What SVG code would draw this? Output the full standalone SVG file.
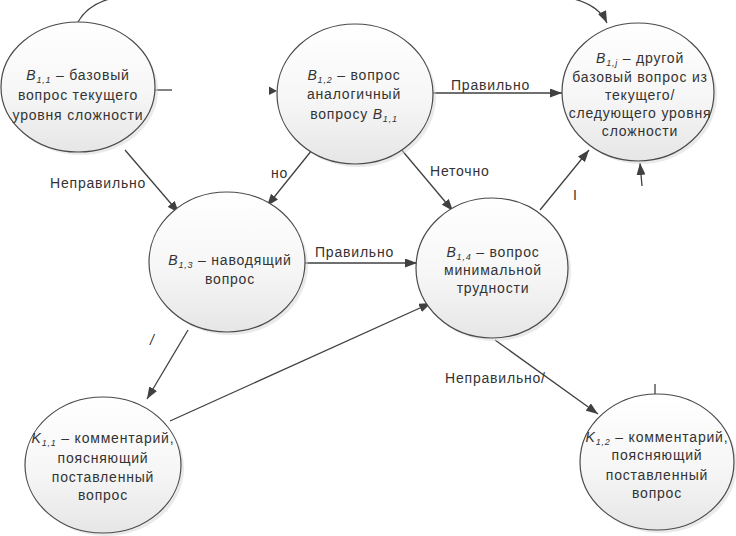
<svg xmlns="http://www.w3.org/2000/svg" width="736" height="536" viewBox="0 0 736 536">
<defs>
<linearGradient id="g" x1="0" y1="0" x2="0" y2="1">
<stop offset="0" stop-color="#ffffff"/>
<stop offset="0.55" stop-color="#f6f6f6"/>
<stop offset="1" stop-color="#e6e6e6"/>
</linearGradient>
<marker id="a" viewBox="0 0 12 9" refX="12" refY="4.5" markerWidth="12" markerHeight="9" markerUnits="userSpaceOnUse" orient="auto">
<path d="M0,0 L12,4.5 L0,9 Z" fill="#404040"/>
</marker>
</defs>
<style>
.n{fill:url(#g);stroke:#4a4a4a;stroke-width:1.2}
.s{fill:#d6d6d6;opacity:0.5}
.t{font-family:"Liberation Sans","Open Sans",sans-serif;font-size:14px;fill:#333;text-anchor:middle;letter-spacing:0.8px}
.l{font-family:"Liberation Sans","Open Sans",sans-serif;font-size:14px;fill:#333;letter-spacing:0.8px}
.i{font-style:italic}
.sub{font-size:9px;font-style:italic}
.c{fill:none;stroke:#404040;stroke-width:1.3}
</style>
<rect width="736" height="536" fill="#fff"/>
<g id="connectors">
<path class="c" d="M78,22 Q92,-3 135,-5 L545,-5 Q595,-3 607,23" marker-end="url(#a)"/>
<line class="c" x1="155" y1="90" x2="172" y2="90"/>
<path d="M269,86.5 L277,91 L269,95 Z" fill="#404040"/>
<line class="c" x1="433" y1="93" x2="562" y2="93" marker-end="url(#a)"/>
<line class="c" x1="125" y1="150" x2="179" y2="213" marker-end="url(#a)"/>
<line class="c" x1="312" y1="150" x2="267" y2="206" marker-end="url(#a)"/>
<line class="c" x1="400" y1="148" x2="453" y2="211" marker-end="url(#a)"/>
<line class="c" x1="305" y1="263" x2="417" y2="263" marker-end="url(#a)"/>
<line class="c" x1="188" y1="330" x2="147" y2="399" marker-end="url(#a)"/>
<line class="c" x1="170" y1="421" x2="431" y2="303" marker-end="url(#a)"/>
<line class="c" x1="540" y1="210" x2="589" y2="150" marker-end="url(#a)"/>
<line class="c" x1="495" y1="340" x2="598" y2="414" marker-end="url(#a)"/>
<line class="c" x1="642" y1="186" x2="640" y2="163" marker-end="url(#a)"/>
<line class="c" x1="655" y1="384" x2="655" y2="394"/>
<text class="l" x="50" y="188">Неправильно</text>
<text class="l" x="271" y="178">но</text>
<text class="l" x="451" y="90">Правильно</text>
<text class="l" x="430" y="176">Неточно</text>
<text class="l" x="315" y="257">Правильно</text>
<text class="l i" x="150" y="345">/</text>
<text class="l" x="573" y="200">I</text>
<text class="l" x="445" y="383">Неправильно/</text>
</g>
<g id="n11">
<ellipse class="s" cx="81" cy="90" rx="77" ry="65"/>
<ellipse class="n" cx="78" cy="87" rx="77" ry="65"/>
<text class="t" x="78" y="80"><tspan class="i">B</tspan><tspan class="sub" dy="3">1,1</tspan><tspan dy="-3"> – базовый</tspan></text>
<text class="t" x="78" y="100">вопрос текущего</text>
<text class="t" x="78" y="120">уровня сложности</text>
</g>
<g id="n12">
<ellipse class="s" cx="358" cy="97" rx="78" ry="70"/>
<ellipse class="n" cx="355" cy="94" rx="78" ry="70"/>
<text class="t" x="354" y="80"><tspan class="i">B</tspan><tspan class="sub" dy="3">1,2</tspan><tspan dy="-3"> – вопрос</tspan></text>
<text class="t" x="354" y="99">аналогичный</text>
<text class="t" x="354" y="119">вопросу <tspan class="i">B</tspan><tspan class="sub" dy="3">1,1</tspan></text>
</g>
<g id="n1j">
<ellipse class="s" cx="641" cy="95" rx="76" ry="69"/>
<ellipse class="n" cx="638" cy="92" rx="76" ry="69"/>
<text class="t" x="640" y="63"><tspan class="i">B</tspan><tspan class="sub" dy="3">1,j</tspan><tspan dy="-3"> – другой</tspan></text>
<text class="t" x="640" y="82">базовый вопрос из</text>
<text class="t" x="640" y="100">текущего/</text>
<text class="t" x="640" y="118">следующего уровня</text>
<text class="t" x="640" y="136">сложности</text>
</g>
<g id="n13">
<ellipse class="s" cx="230" cy="265" rx="78" ry="70"/>
<ellipse class="n" cx="227" cy="262" rx="78" ry="70"/>
<text class="t" x="230" y="265"><tspan class="i">B</tspan><tspan class="sub" dy="3">1,3</tspan><tspan dy="-3"> – наводящий</tspan></text>
<text class="t" x="230" y="284">вопрос</text>
</g>
<g id="n14">
<ellipse class="s" cx="495" cy="271" rx="76" ry="70"/>
<ellipse class="n" cx="492" cy="268" rx="76" ry="70"/>
<text class="t" x="493" y="257"><tspan class="i">B</tspan><tspan class="sub" dy="3">1,4</tspan><tspan dy="-3"> – вопрос</tspan></text>
<text class="t" x="493" y="275">минимальной</text>
<text class="t" x="493" y="293">трудности</text>
</g>
<g id="k11">
<ellipse class="s" cx="106" cy="468" rx="78" ry="68"/>
<ellipse class="n" cx="103" cy="465" rx="78" ry="68"/>
<text class="t" x="103" y="443"><tspan class="i">K</tspan><tspan class="sub" dy="3">1,1</tspan><tspan dy="-3"> – комментарий,</tspan></text>
<text class="t" x="103" y="463">поясняющий</text>
<text class="t" x="103" y="482">поставленный</text>
<text class="t" x="103" y="500">вопрос</text>
</g>
<g id="k12">
<ellipse class="s" cx="660" cy="465" rx="77" ry="68"/>
<ellipse class="n" cx="657" cy="462" rx="77" ry="68"/>
<text class="t" x="657" y="442"><tspan class="i">K</tspan><tspan class="sub" dy="3">1,2</tspan><tspan dy="-3"> – комментарий,</tspan></text>
<text class="t" x="657" y="460">поясняющий</text>
<text class="t" x="657" y="480">поставленный</text>
<text class="t" x="657" y="498">вопрос</text>
</g>
</svg>
